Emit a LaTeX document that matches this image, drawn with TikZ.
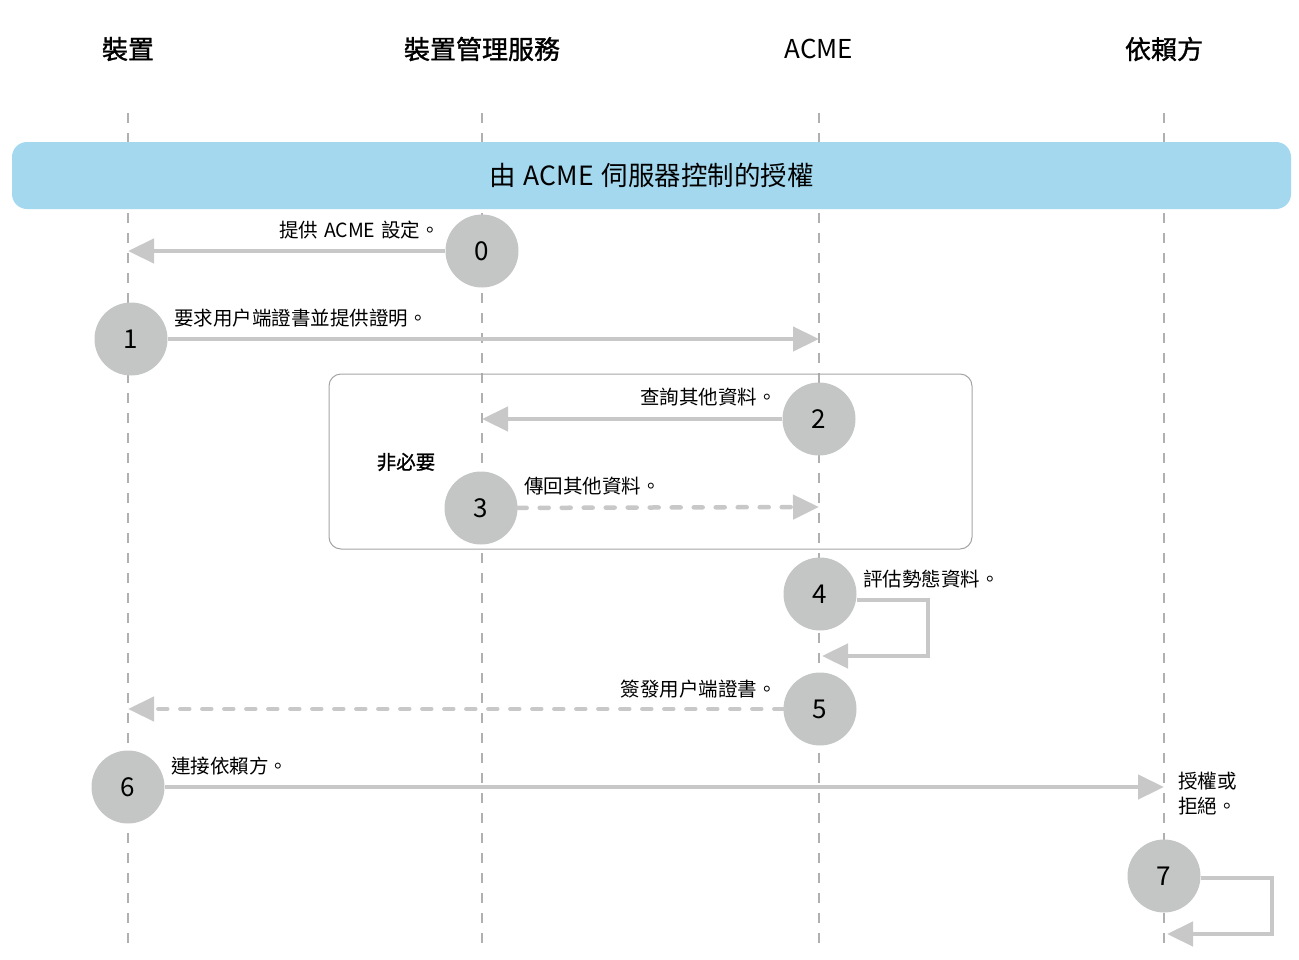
\documentclass[tikz,border=0pt]{standalone}
\usepackage{fontspec}
\setmainfont{Noto Sans CJK TC}
\newfontfamily\headfont[FakeBold=1.2]{Noto Sans CJK TC}
\usepackage{tikz}
\usetikzlibrary{arrows.meta}
\definecolor{stepgray}{HTML}{C4C5C5}
\definecolor{msggray}{HTML}{C8C8C8}
\definecolor{lanegray}{HTML}{B0B0B0}
\definecolor{boxgray}{HTML}{A4A4A4}
\definecolor{banner}{HTML}{A3D8EF}
\tikzset{
  lane/.style={draw=lanegray,line width=1.3pt,dash pattern=on 10pt off 10pt},
  msg/.style={draw=msggray,line width=4.5pt},
  msgdash/.style={msg,line cap=round,dash pattern=on 9pt off 13pt},
  stepnum/.style={circle,fill=stepgray,minimum size=73pt,inner sep=0pt,
    font=\fontsize{26}{30}\selectfont},
  msglabel/.style={inner sep=0pt,font=\fontsize{19.5}{25}\selectfont},
  lanehead/.style={inner sep=0pt,font=\fontsize{26}{30}\selectfont\headfont}
}

\begin{document}
\begin{tikzpicture}[x=1pt,y=-1pt,
    >={Triangle[length=26pt,width=24pt,fill=msggray]}]
  \useasboundingbox (0,0) rectangle (1299,959);

  % lanes
  \node[lanehead] (dev) at (128,49) {裝置};
  \node[lanehead] (mdm) at (482,49) {裝置管理服務};
  \node[lanehead,font=\fontsize{26}{30}\selectfont] (acme) at (819,49) {ACME};
  \node[lanehead] (rp) at (1164,49) {依賴方};
  \foreach \x/\n in {128/dev,482/mdm,819/acme,1164/rp} {
    \coordinate (\n-top) at (\x,113);
    \coordinate (\n-bot) at (\x,945);
    \draw[lane] (\n-top) -- (\n-bot);
  }

  \node[fill=banner,rounded corners=15pt,minimum width=1279pt,
    minimum height=67pt,inner sep=0pt,font=\fontsize{26.5}{30}\selectfont]
    (auth) at (651.5,175.5) {由\hspace{0.3em}ACME\hspace{0.3em}伺服器控制的授權};

  \node[draw=boxgray,line width=1pt,rounded corners=12pt,
    minimum width=643pt,minimum height=175pt] (optbox) at (650.5,461.5) {};

  % steps
  \begin{scope}[every node/.style={stepnum}]
    \node (s0) at (482,251) {0};
    \node (s1) at (131,339) {1};
    \node (s2) at (819,419) {2};
    \node (s3) at (481,508) {3};
    \node (s4) at (820,594) {4};
    \node (s5) at (820,709) {5};
    \node (s6) at (128,787) {6};
    \node (s7) at (1164,876) {7};
  \end{scope}
  \coordinate (loop4) at (928,656);
  \coordinate (loop7) at (1272,934);

  \draw[msg,->] (s0) -- (s0 -| dev-top);
  \draw[msg,->] (s1) -- (s1 -| acme-top);
  \draw[msg,->] (s2) -- (s2 -| mdm-top);
  \draw[msgdash,->] (s3) -- ([yshift=1pt]s3 -| acme-top);
  \draw[msg,->] ([yshift=-6pt]s4.east) -| (loop4) -- ([xshift=3pt]loop4 -| acme-top);
  \draw[msgdash,->] (s5) -- (s5 -| dev-top);
  \draw[msg,->] (s6) -- (s6 -| rp-top);
  \draw[msg,->] ([yshift=-2pt]s7.east) -| (loop7) -- ([xshift=3pt]loop7 -| rp-top);

  % labels
  \begin{scope}[every node/.style={msglabel}]
    \node[anchor=east] (l0) at (440,230) {提供\hspace{0.3em}ACME\hspace{0.3em}設定。};
    \node[anchor=west] (l1) at (174,318) {要求用户端證書並提供證明。};
    \node[anchor=east] (l2) at (777,397) {查詢其他資料。};
    \node[font=\fontsize{19.5}{25}\selectfont\headfont] (opt) at (406,462) {非必要};
    \node[anchor=west] (l3) at (524,486) {傳回其他資料。};
    \node[anchor=west] (l4) at (863,579) {評估勢態資料。};
    \node[anchor=east] (l5) at (777,689) {簽發用户端證書。};
    \node[anchor=west] (l6) at (171,766) {連接依賴方。};
    \node[anchor=north west,align=left] (l7) at (1178,772) {授權或\\拒絕。};
  \end{scope}
\end{tikzpicture}
\end{document}
